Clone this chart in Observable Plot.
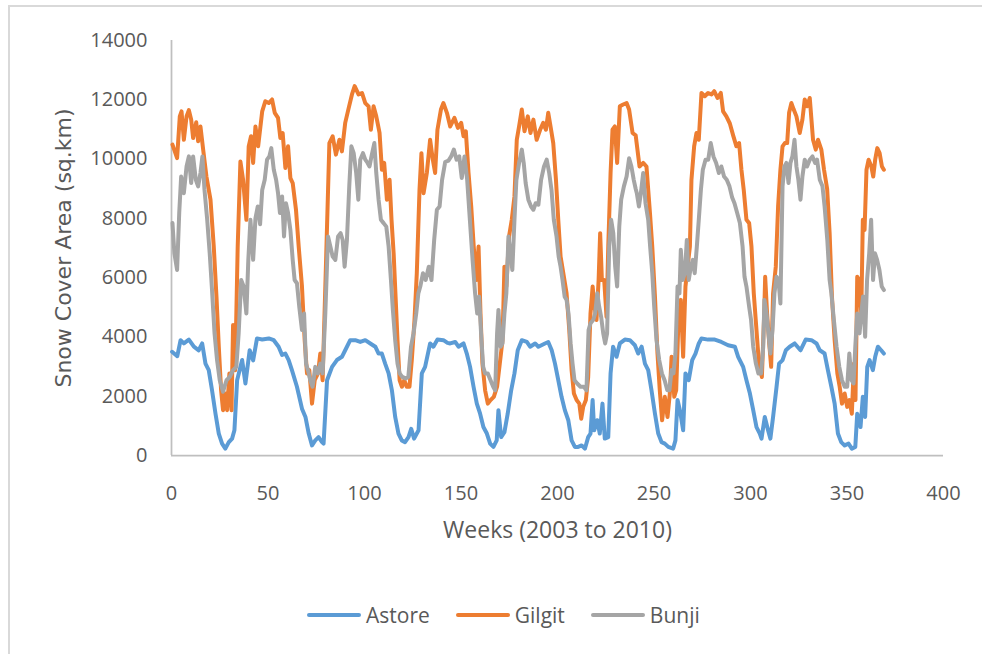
<!DOCTYPE html>
<html>
<head>
<meta charset="utf-8">
<script src="https://cdn.jsdelivr.net/npm/d3@7"></script>
<script src="https://cdn.jsdelivr.net/npm/@observablehq/plot@0.6"></script>
<style>
  html, body { margin: 0; padding: 0; background: #fff; }
  #wrap { position: relative; width: 982px; height: 654px; overflow: hidden; background: #fff; }
  #frame { position: absolute; left: 8px; top: 5px; width: 990px; height: 660px;
           border-top: 2px solid #d9d9d9; border-left: 2px solid #d9d9d9; box-sizing: border-box; }
  #chart { position: absolute; left: 0; top: 0; }
  #legend { position: absolute; left: 307px; top: 601px; height: 28px; display: flex; align-items: center;
            font-family: "Open Sans", sans-serif; font-size: 21px; color: #595959; }
  .item { display: flex; align-items: center; margin-right: 26px; }
  .item:last-child { margin-right: 0; }
  .swatch { width: 54px; height: 4px; border-radius: 2px; margin-right: 5px; }
</style>
</head>
<body>
<div id="wrap">
  <div id="frame"></div>
  <div id="chart"></div>
  <div id="legend"></div>
</div>
<script>
// ---- Data (week, snow cover area in sq.km) ----
const seriesNames = ["Astore", "Gilgit", "Bunji"];
const seriesColors = ["#5B9BD5", "#ED7D31", "#A5A5A5"];
const xTicks = [0, 50, 100, 150, 200, 250, 300, 350, 400];
const yTicks = [0, 2000, 4000, 6000, 8000, 10000, 12000, 14000];
const xTitle = "Weeks (2003 to 2010)";
const yTitle = "Snow Cover Area (sq.km)";

const astore = [[0.3,3500],[3,3350],[4.7,3890],[6.4,3780],[9,3910],[11.6,3670],[14.1,3550],[15.9,3780],[17.6,3100],[19.3,2880],[21,2200],[22.8,1410],[24.5,740],[26.2,400],[27.9,230],[29.7,450],[31.4,570],[32.6,850],[34,2540],[36.6,3220],[38.3,2430],[40.5,3550],[42.3,3210],[44.3,3950],[47,3915],[50.4,3950],[53,3890],[55.5,3670],[57.3,3390],[59,3440],[60.7,3220],[62.4,2880],[65,2320],[67.6,1580],[69.4,1300],[71.1,740],[72.8,340],[74.5,510],[76.2,620],[78,450],[78.8,400],[80.6,2540],[83.2,2990],[85.7,3220],[88.3,3330],[90,3550],[92.6,3890],[95.2,3890],[97.8,3830],[100.4,3890],[103,3780],[105.6,3670],[107.3,3440],[109,3440],[110.7,3100],[112.5,2770],[114.2,2200],[115.9,1300],[117.6,740],[119.3,510],[121,450],[122.8,620],[124.2,900],[125.7,570],[128,850],[129.7,2770],[131.4,2990],[134,3780],[135.7,3670],[137.8,3910],[140.9,3890],[143,3800],[144.4,3780],[147,3830],[148.7,3670],[151.3,3780],[153,3440],[154.7,2990],[156.5,2320],[158.2,1750],[159.9,1410],[161.6,960],[163.4,740],[165.1,400],[166.8,290],[168.5,510],[169.4,1530],[170.8,620],[172.5,790],[174.2,1410],[176,2200],[177.7,2770],[179.4,3550],[181.5,3890],[184.1,3830],[185.8,3670],[188.4,3780],[190.1,3670],[193.5,3780],[195.2,3830],[197,3550],[198.7,3100],[200.4,2540],[202.1,1980],[203.8,1530],[205.6,1190],[207.3,510],[209,290],[210.7,290],[212.5,340],[214.2,230],[215.9,620],[217.1,740],[218.2,1870],[219,850],[220.6,1190],[221.9,740],[223.3,1750],[224.5,570],[226.3,620],[227.5,2770],[228.8,3670],[230.6,3330],[232.3,3780],[234.9,3910],[237.5,3890],[240.1,3720],[241.8,3440],[243.6,3670],[245.3,3100],[247,2880],[248.7,2200],[250.5,1410],[252.2,740],[253.9,450],[255.6,400],[257.4,290],[259.9,230],[261.1,510],[262.2,1870],[263.5,1500],[265.1,850],[266.3,2770],[268,2540],[269.8,3220],[271.5,3440],[273.2,3780],[274.6,3950],[278,3910],[281.5,3910],[284.9,3830],[288.4,3720],[291.9,3670],[293.6,3330],[296.2,2990],[297.9,2540],[299.7,2090],[301.4,1530],[303.1,960],[304.8,740],[305.7,570],[307.4,1300],[309.1,850],[310.3,570],[311.7,1300],[313.5,2320],[314.8,3100],[316.6,3220],[318.3,3550],[320.3,3670],[322.9,3780],[325.9,3550],[328.6,3910],[331.6,3890],[334.2,3780],[335.9,3550],[338.4,3440],[340.1,2880],[341.9,2320],[343.6,1750],[345.3,740],[347,450],[348.8,340],[350.8,400],[352.5,230],[354.3,290],[355.3,1410],[357,960],[358.2,1980],[359.4,1300],[360.5,2990],[361.7,3220],[363.4,2880],[364.6,3330],[366,3670],[367.7,3550],[369.1,3440]];

const gilgit = [[0.5,10490],[2.9,10030],[4.3,11440],[5.2,11610],[6.4,10650],[7.8,11440],[9,11650],[10.2,11330],[11.2,10710],[12.8,11240],[13.8,10600],[15,11100],[16.4,10320],[18.1,9410],[20.2,8630],[21.9,7050],[23.3,5360],[24.5,3670],[25.7,2200],[26.7,1530],[27.9,2090],[28.8,1530],[30,2770],[31.1,1530],[31.9,4400],[33,2880],[34.3,7050],[35.7,9920],[37.1,9300],[38.8,7950],[40,10430],[41.2,10770],[42.3,9870],[43.5,11100],[44.9,10430],[47,11610],[48.6,11950],[50.4,11890],[52.1,12010],[53.5,11560],[55.2,11390],[56.4,10710],[57.6,10880],[59,9700],[60.4,10430],[61.6,9360],[62.8,9190],[64.5,8290],[65.9,7050],[67.6,5700],[69,3890],[70.2,2770],[71.4,2880],[72.8,1750],[74.2,2540],[75.9,2770],[77.1,3440],[78.3,2540],[80,6370],[81.8,10540],[83.5,10770],[85.2,10150],[87,10650],[88.3,10260],[90,11220],[91.4,11610],[93.5,12180],[94.9,12460],[96.9,12180],[98.7,12230],[100.4,11890],[102.1,11780],[103.3,10990],[104.7,11780],[106.1,11440],[107.8,10880],[109,9640],[110.2,9870],[111.6,8630],[113,9300],[114,7950],[115.1,6820],[116.1,5360],[117.1,3890],[118.2,2540],[119.4,2320],[120.6,2540],[121.9,2320],[123.3,2320],[124.5,3220],[125.9,4570],[127.1,6150],[128.5,8960],[129.5,10200],[130.6,8850],[132.3,9530],[134,10650],[135.4,9980],[136.6,9530],[137.8,10990],[139.6,11670],[140.9,11890],[142.7,11560],[144.4,11100],[146.6,11390],[148.4,11050],[150.1,11220],[151.3,10770],[152.5,10940],[153.9,9530],[155.3,8400],[156.6,7050],[158,5920],[159.1,7050],[160.1,4790],[161.1,3100],[162.5,2200],[163.9,1750],[165.3,1870],[167,1980],[168.7,2320],[170.1,3100],[171.5,3890],[172.5,6370],[173.5,5700],[174.9,7390],[176.3,7950],[177.7,8740],[178.9,10650],[180.1,11100],[181.5,11670],[182.9,10940],[184.6,11440],[186,10880],[187.5,11330],[189.2,10650],[191,10990],[192.6,11220],[194,10990],[195.2,11560],[196.4,11100],[197.8,10540],[199.2,9300],[200.4,7950],[201.6,6710],[203,6150],[204.7,5470],[206.1,4230],[207.3,2880],[208.5,2090],[209.9,1870],[211.3,1750],[212.3,1240],[213.3,1640],[214.7,1870],[215.9,2650],[217.1,4790],[218.2,5700],[219.2,5020],[220.2,4570],[221.3,5920],[222.1,7500],[223,5920],[224.2,5920],[225.4,4680],[226.3,7050],[227.5,9530],[228.5,10990],[229.7,11100],[230.9,9870],[232.3,11780],[234,11840],[235.8,11890],[237.1,11670],[238.9,10880],[240.5,10800],[242.5,9750],[244.4,9870],[246.1,9750],[247.9,8180],[249.1,7050],[250.5,5360],[251.8,3440],[253,2200],[254.2,1190],[255.6,1980],[257,1300],[258.2,2090],[259.1,3330],[260.5,1980],[261.5,2200],[262.5,4230],[263.9,5250],[265.1,3330],[266.3,5700],[267.4,6370],[268.6,7050],[269.4,9300],[270.8,10430],[272,10880],[273.2,10650],[274.6,12230],[276.3,12120],[278,12230],[279.8,12180],[281.2,12290],[282.9,12060],[284.6,12230],[285.8,11610],[287.5,11440],[289.3,11200],[291,10800],[292.7,10430],[294.1,10540],[295.3,9640],[296.5,8960],[297.9,7950],[299.3,7840],[300.5,7050],[301.7,5470],[303.1,4230],[304.5,2990],[305.9,2650],[307.1,4790],[307.6,6030],[308.6,4790],[309.7,3780],[310.7,2990],[311.7,5470],[313.1,6370],[314.3,8400],[315.5,9640],[316.6,10430],[317.8,10540],[319,10540],[320,11560],[321.2,11890],[322.4,11670],[323.8,11440],[325.5,10880],[326.9,11330],[328.1,12010],[329.3,11780],[330.7,12060],[332.4,10650],[333.8,10320],[335,10650],[336.7,10320],[338.1,9640],[339.7,9000],[341,7500],[342.2,5360],[343.6,3890],[345,2770],[346.2,2320],[347.4,1750],[348.8,2090],[350.1,1640],[351.3,1870],[352.5,1410],[353.6,3100],[354.4,1870],[355.3,6030],[356.3,5920],[357.4,4790],[358.2,7950],[359.1,7610],[360.1,9640],[361.2,9980],[362.6,9750],[363.6,9410],[364.6,9980],[365.7,10370],[366.9,10200],[368.1,9750],[369.1,9640]];

const bunji = [[0.5,7840],[1.5,6820],[2.9,6260],[4,8180],[5,9410],[6.4,8850],[7.8,9750],[9,10090],[10.2,9190],[11.2,10090],[12.6,9300],[13.8,9080],[15,9530],[16,10090],[17.1,8960],[18.5,7950],[19.8,6820],[21,5580],[22.3,4120],[23.6,3220],[25,2540],[26.7,2150],[28.5,2540],[30.2,2650],[31.9,2880],[33.6,2990],[34.8,4120],[36.1,5920],[37.4,5700],[38.8,4790],[39.8,6600],[40.9,7950],[42.3,6600],[43.5,8000],[44.7,8400],[45.9,7800],[47,8960],[48.3,9300],[49.5,9980],[50.7,10090],[51.7,10370],[53,9640],[54.2,9300],[55.2,8850],[56.2,8180],[57.3,8740],[58.3,7390],[59.3,8510],[60.4,8180],[61.6,7610],[62.8,6600],[63.8,5920],[65,5810],[66.2,5020],[67.6,4230],[68.7,4790],[69.7,3100],[70.7,2880],[71.9,2540],[73.1,2320],[74.5,2990],[75.9,2770],[77.1,3100],[78.3,2770],[79.7,4790],[81.1,7390],[82.3,7050],[83.5,6710],[84.9,6600],[86.3,7390],[87.6,7500],[88.7,7270],[89.7,6370],[90.9,7270],[92.1,9080],[93.2,10430],[94.4,10200],[95.7,9530],[96.8,8630],[97.8,9980],[99.2,10200],[100.4,9980],[101.6,9870],[102.6,9750],[103.8,10150],[105.1,10540],[106.1,9530],[107.3,8630],[108.5,7950],[109.9,7840],[111.3,7720],[112.5,7050],[113.7,5920],[114.7,4910],[115.9,3890],[117.1,3100],[118.2,2770],[119.6,2650],[121.3,2600],[122.7,2650],[124.1,3670],[125.4,4120],[126.8,4790],[127.9,5470],[128.9,5700],[130.3,6150],[131.7,5920],[133.3,6370],[134.7,5920],[136.1,7270],[137.5,8290],[138.9,8400],[140.2,9300],[141.8,9900],[143.5,9950],[144.9,10090],[146.3,10320],[147.7,9980],[149.1,10090],[150.4,9360],[151.8,10090],[153.2,9300],[154.6,7950],[156,6600],[157.3,5470],[158.4,4790],[159.4,5360],[160.4,4120],[161.5,2990],[162.5,2770],[163.9,2770],[165.3,2540],[166.7,2320],[167.7,2200],[168.7,4120],[169.4,4910],[170.5,3670],[171.5,3780],[172.5,4790],[173.5,5470],[174.6,7390],[175.6,6820],[176.6,6260],[177.7,7950],[178.7,9300],[180.1,9870],[181.5,10320],[182.5,9870],[183.5,9190],[184.9,8630],[186.3,8400],[187.5,8290],[188.7,8510],[190.1,8460],[191.5,9300],[193,9750],[194.4,9980],[195.7,9530],[196.9,8960],[198.1,7950],[199.5,7390],[200.6,6710],[201.6,6370],[202.6,5920],[203.7,5360],[204.7,5250],[205.7,4790],[206.8,3780],[207.8,3100],[208.8,2540],[210.2,2430],[211.9,2320],[213.7,2320],[215,2200],[216.1,4230],[217.1,4460],[218.5,4570],[219.5,4790],[220.6,5470],[221.6,5020],[222.6,4680],[223.7,4120],[224.7,3780],[225.7,4120],[226.8,7050],[227.8,7950],[228.9,7500],[229.9,6370],[230.9,5700],[232,7720],[233,8630],[234.4,9080],[235.8,9410],[237.1,10030],[238.3,9750],[239.5,9300],[240.5,9000],[241.1,8850],[242.2,8400],[243.2,8850],[244.4,9530],[245.6,8510],[247,7950],[248,7050],[249.1,6150],[250.1,5020],[251.3,3890],[252.7,3220],[254.1,2770],[255.5,2540],[256.9,2200],[258,2200],[259.1,2880],[260.1,2770],[261.1,3440],[262.2,5700],[263.2,5470],[263.9,6940],[264.9,5920],[266,6150],[267,7270],[268,5920],[269.1,6370],[270.1,6600],[271.1,6150],[272.2,7050],[273.2,7950],[274.3,8960],[275.3,9640],[276.7,9980],[278.1,9980],[279.4,10540],[280.8,10090],[282.2,9870],[283.6,9530],[284.9,9750],[286.3,9410],[287.7,9300],[289.1,9080],[290.5,8700],[291.7,8510],[293.1,8180],[294.5,7840],[295.9,7050],[296.9,6030],[297.9,5700],[299.3,5020],[300.3,4570],[301.4,3670],[302.8,3100],[304.1,2770],[305.5,2770],[306.6,3670],[307.2,5250],[308.3,4790],[309.3,4120],[310.3,3440],[311.4,4230],[312.4,5470],[313.5,6030],[314.5,5920],[315.5,5130],[316.6,9080],[317.6,9750],[318.6,9870],[319.7,9190],[320.7,9870],[321.7,10090],[322.8,10650],[323.8,9750],[324.8,9300],[325.9,8630],[326.9,9410],[328.1,9980],[329.3,9750],[330.7,9980],[332.1,10090],[333.5,9870],[334.5,9980],[335.9,9300],[337.3,9080],[338.4,8400],[339.8,7270],[341,5920],[341.9,5470],[343.2,4570],[344.6,3670],[346,2990],[347.4,2540],[348.8,2320],[350.1,2320],[351.2,3440],[352.4,2540],[353.4,2430],[354.3,3670],[355.3,4790],[356.5,4120],[357.4,4790],[358.3,5360],[359.4,4010],[360.4,5920],[361.5,6820],[362.5,7950],[363.5,5920],[364.5,6820],[365.6,6600],[366.8,6260],[368,5700],[369.1,5580]];

// ---- Build table ----
const seriesData = [astore, gilgit, bunji];
const rows = seriesData.flatMap((arr, i) => arr.map(([w, v]) => ({week: w, area: v, series: seriesNames[i]})));

const textColor = "#595959";
const axisColor = "#BFBFBF";

const chart = Plot.plot({
  width: 982,
  height: 580,
  marginLeft: 171,
  marginRight: 39,
  marginTop: 40,
  marginBottom: 125,
  style: {fontFamily: "'Open Sans', sans-serif", fontSize: "20px", color: textColor, background: "transparent", overflow: "visible"},
  x: {domain: [0, 400], ticks: xTicks, tickFormat: d => String(d)},
  y: {domain: [0, 14000], ticks: yTicks, tickFormat: d => String(d)},
  color: {domain: seriesNames, range: seriesColors},
  marks: [
    Plot.axisX({ticks: xTicks, tickSize: 0, tickPadding: 30, label: null, tickFormat: d => String(d), fill: textColor}),
    Plot.axisY({ticks: yTicks, tickSize: 0, tickPadding: 24, label: null, tickFormat: d => String(d), fill: textColor}),
    Plot.ruleX([0], {stroke: axisColor, strokeWidth: 1.75}),
    Plot.ruleY([0], {stroke: axisColor, strokeWidth: 1.75}),
    Plot.line(rows, {x: "week", y: "area", z: "series", stroke: "series", strokeWidth: 4, strokeLinejoin: "round", strokeLinecap: "round"}),
    Plot.text([xTitle], {frameAnchor: "bottom", dy: 82, textAnchor: "middle", fill: textColor, fontSize: 23, fontFamily: "'Open Sans', sans-serif"}),
    Plot.text([yTitle], {frameAnchor: "left", dx: -108, rotate: -90, textAnchor: "middle", lineAnchor: "middle", fill: textColor, fontSize: 22, fontFamily: "'DejaVu Sans', sans-serif"})
  ]
});
document.getElementById("chart").appendChild(chart);

// ---- Legend ----
const legend = document.getElementById("legend");
seriesNames.forEach((name, i) => {
  const item = document.createElement("div");
  item.className = "item";
  const sw = document.createElement("div");
  sw.className = "swatch";
  sw.style.background = seriesColors[i];
  const label = document.createElement("span");
  label.textContent = name;
  item.appendChild(sw);
  item.appendChild(label);
  legend.appendChild(item);
});
</script>
</body>
</html>
